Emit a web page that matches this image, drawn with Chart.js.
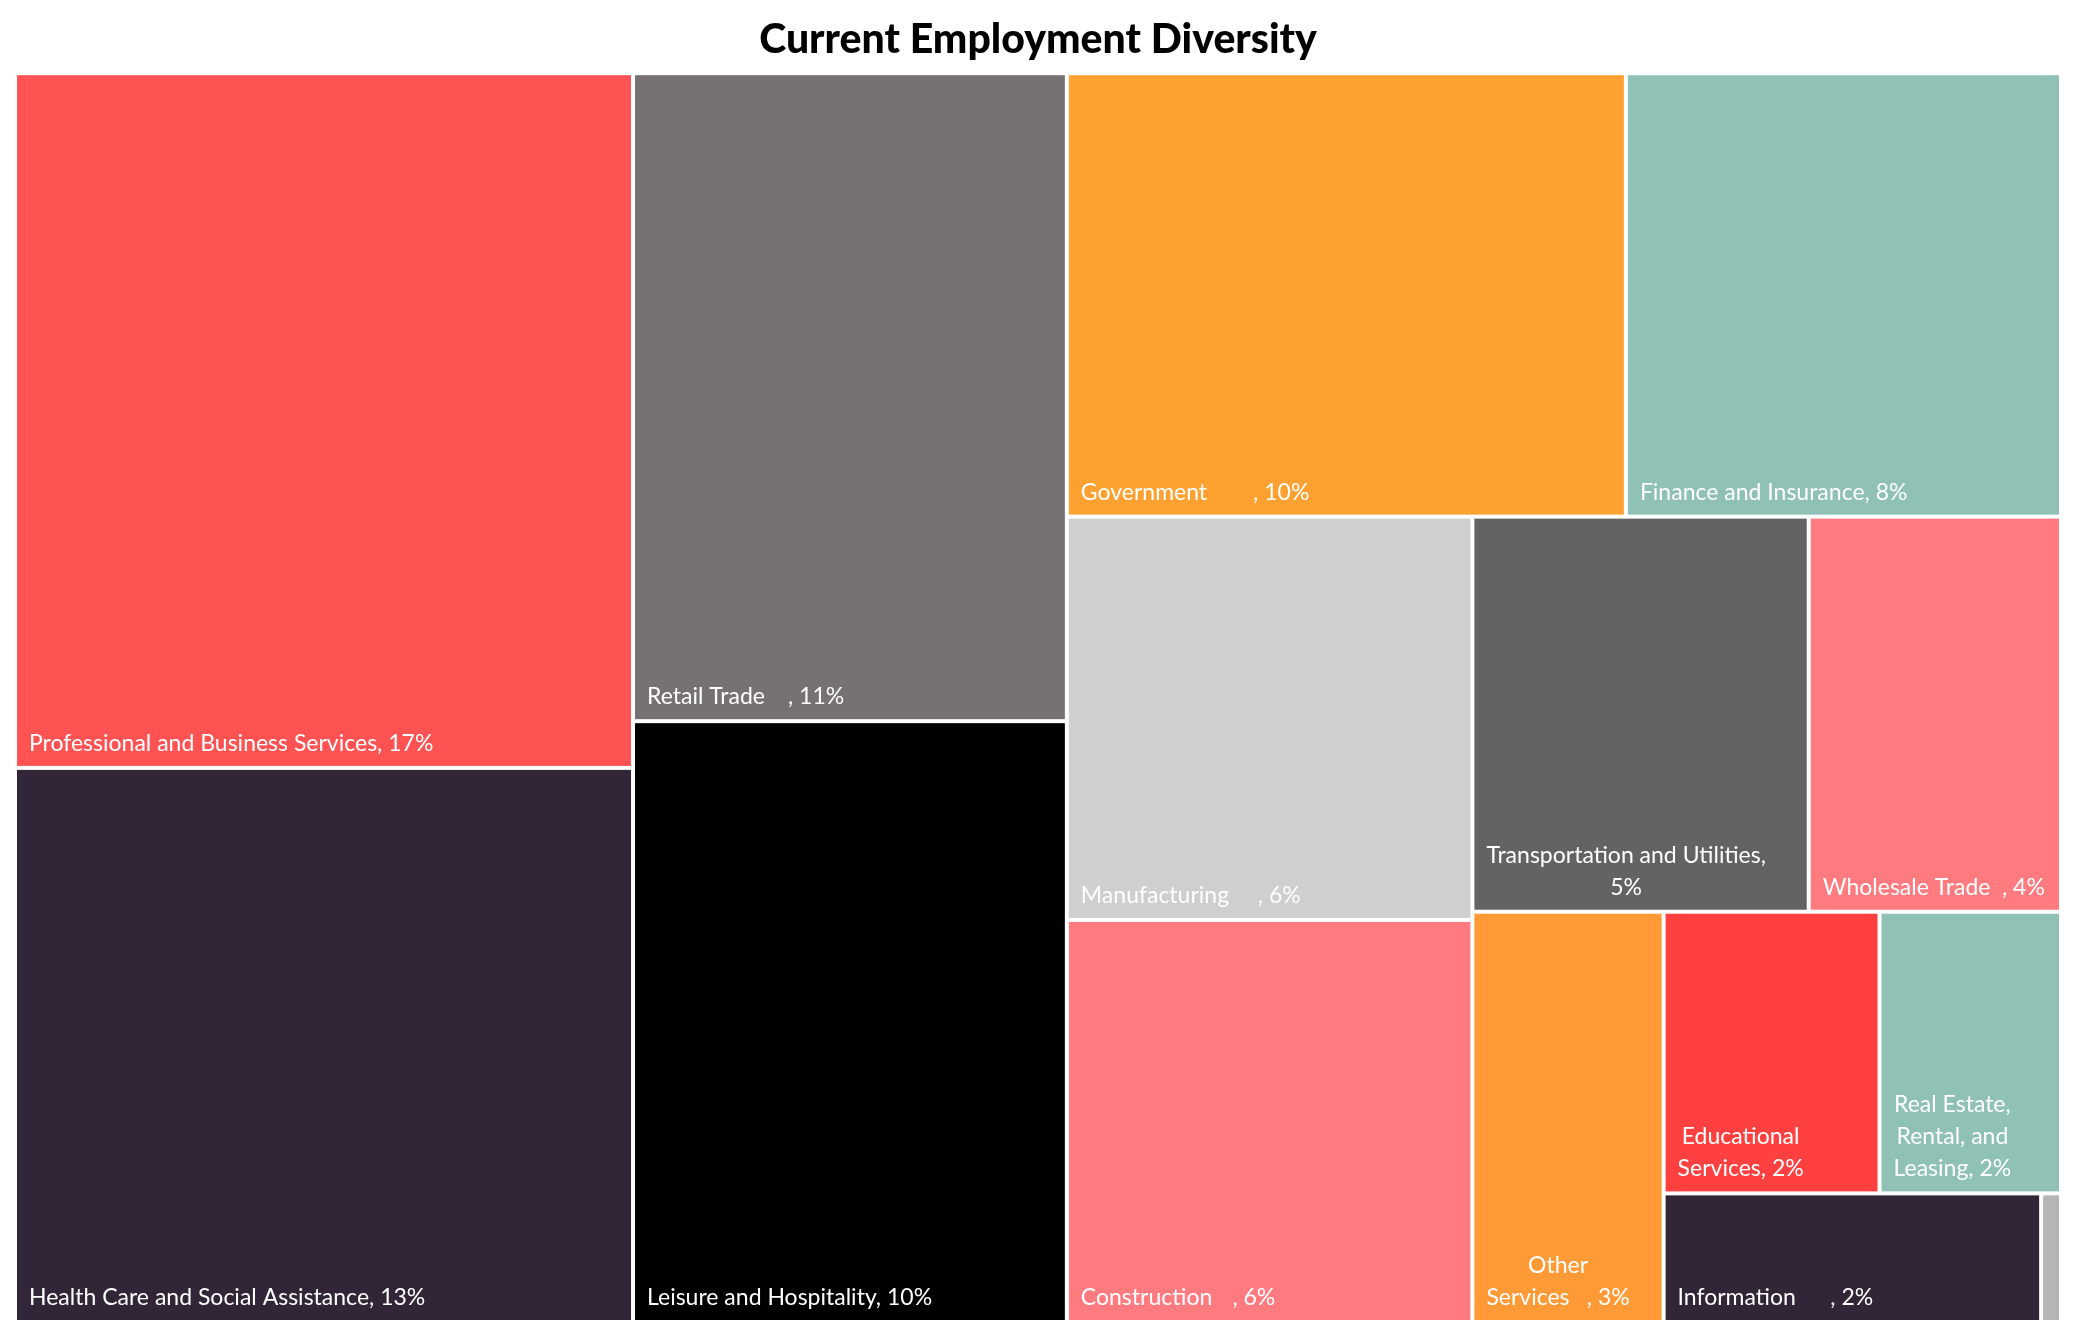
<!DOCTYPE html>
<html>
<head>
<meta charset="utf-8">
<title>Current Employment Diversity</title>
<script src="https://cdn.jsdelivr.net/npm/chart.js@4.4.1/dist/chart.umd.min.js"></script>
<style>
  html, body { margin: 0; padding: 0; background: #fff; }
  #wrap { width: 2076px; height: 1337px; }
</style>
</head>
<body>
<div id="wrap"><canvas id="treemapChart"></canvas></div>
<script>
// share of employment by sector (percent), sorted largest first
// some names carry extra blank space before the comma, as in the original labels
const categories = [
  "Professional and Business Services",
  "Health Care and Social Assistance",
  "Retail Trade\u2003\u2009\u2009",
  "Leisure and Hospitality",
  "Government\u2003\u2003\u2002",
  "Finance and Insurance",
  "Manufacturing\u2003\u2002",
  "Construction\u2003\u2009",
  "Transportation and Utilities",
  "Wholesale Trade\u2002",
  "Other Services\u2003",
  "Educational Services",
  "Real Estate, Rental, and Leasing",
  "Information\u2003\u2003",
  "Natural Resources and Mining",
];
const values = [16.8, 13.4, 11.0, 10.2, 9.7, 7.55, 6.4, 6.38, 5.2, 3.9, 3.07, 2.38, 2.0, 1.9, 0.1];
const colors = [
  "#FF5252", "#312537", "#767271", "#000000", "#FFA131",
  "#90C1B6", "#D0CECE", "#FF7B80", "#636363", "#FF7B80",
  "#FF9A36", "#FF4040", "#90C1B6", "#312537", "#B5B5B5",
];

// how many tiles go in each strip of the squarified layout
const rowSizes = [2, 2, 2, 2, 2, 1, 2, 1, 1];

const total = values.reduce((a, b) => a + b, 0);
const GAP = 2; // half of the white line between tiles
const LABEL_FONT = 23;
const LINE_HEIGHT = 32;
const PAD_X = 12;
const PAD_BOTTOM = 15;

// strips: a row across the top when the free space is tall, else a column on the left
function layoutTiles(vals, sizes, w, h) {
  let x0 = 0, y0 = 0;
  const x1 = w, y1 = h;
  let left = vals.reduce((a, b) => a + b, 0);
  let i = 0;
  const rects = [];
  sizes.forEach((n) => {
    const row = vals.slice(i, i + n);
    const sum = row.reduce((a, b) => a + b, 0);
    const dx = x1 - x0, dy = y1 - y0;
    if (dx < dy) {
      const rh = (dy * sum) / left;
      let x = x0;
      row.forEach((v) => {
        const rw = (dx * v) / sum;
        rects.push({ x0: x, y0: y0, x1: x + rw, y1: y0 + rh });
        x += rw;
      });
      y0 += rh;
    } else {
      const cw = (dx * sum) / left;
      let y = y0;
      row.forEach((v) => {
        const ch = (dy * v) / sum;
        rects.push({ x0: x0, y0: y, x1: x0 + cw, y1: y + ch });
        y += ch;
      });
      x0 += cw;
    }
    left -= sum;
    i += n;
  });
  return rects;
}

function wrapText(ctx, text, maxWidth) {
  const words = text.split(" ");
  const lines = [];
  let line = words[0];
  for (let k = 1; k < words.length; k++) {
    const test = line + " " + words[k];
    if (ctx.measureText(test).width <= maxWidth) {
      line = test;
    } else {
      lines.push(line);
      line = words[k];
    }
  }
  lines.push(line);
  return lines;
}

const treemapPlugin = {
  id: "treemap",
  afterDatasetsDraw(chart) {
    const { ctx, chartArea, scales } = chart;
    const aspect = chartArea.width / chartArea.height;
    const rects = layoutTiles(values, rowSizes, aspect, 1);
    ctx.save();
    rects.forEach((r, i) => {
      const left = scales.x.getPixelForValue(r.x0 / aspect) + GAP;
      const right = scales.x.getPixelForValue(r.x1 / aspect) - GAP;
      const top = scales.y.getPixelForValue(r.y0) + GAP;
      const bottom = scales.y.getPixelForValue(r.y1) - GAP;
      ctx.fillStyle = colors[i];
      ctx.fillRect(left, top, right - left, bottom - top);

      const w = right - left;
      if (w < 40 || bottom - top < 30) return;
      const label = categories[i] + ", " + Math.round((values[i] / total) * 100) + "%";
      ctx.font = LABEL_FONT + "px Lato";
      const lines = wrapText(ctx, label, w - 2 * PAD_X - 2);
      const blockW = Math.max(...lines.map((l) => ctx.measureText(l).width));
      const cx = left + PAD_X + blockW / 2;
      ctx.fillStyle = "#ffffff";
      ctx.textAlign = "center";
      ctx.textBaseline = "alphabetic";
      lines.forEach((l, k) => {
        const y = bottom - PAD_BOTTOM - (lines.length - 1 - k) * LINE_HEIGHT;
        ctx.fillText(l, cx, y);
      });
    });
    ctx.restore();
  },
};

new Chart(document.getElementById("treemapChart").getContext("2d"), {
  type: "scatter",
  data: { datasets: [{ data: [] }] },
  options: {
    responsive: true,
    maintainAspectRatio: false,
    animation: false,
    layout: { padding: { left: 15, right: 15, top: 0, bottom: 15 } },
    scales: {
      x: { type: "linear", min: 0, max: 1, display: false },
      y: { type: "linear", min: 0, max: 1, reverse: true, display: false },
    },
    plugins: {
      legend: { display: false },
      tooltip: { enabled: false },
      title: {
        display: true,
        text: "Current Employment Diversity",
        color: "#000000",
        font: { family: "Lato", size: 41, weight: 900 },
        padding: { top: 15, bottom: 9 },
      },
    },
  },
  plugins: [treemapPlugin],
});
</script>
</body>
</html>
